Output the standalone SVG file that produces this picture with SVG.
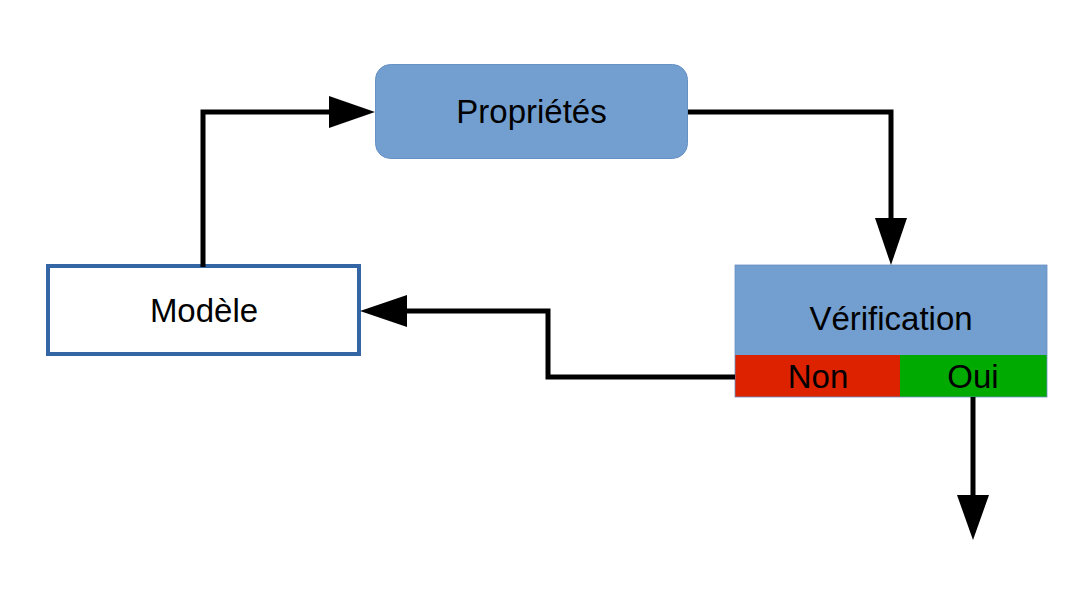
<svg xmlns="http://www.w3.org/2000/svg" width="1076" height="610" viewBox="0 0 1076 610">
<style>
.t{font-family:"Liberation Sans",Arial,sans-serif;font-size:33px;fill:#000;text-anchor:middle}
.c{fill:none;stroke:#000;stroke-width:5;stroke-linejoin:miter}
.h{fill:#000}
</style>
<rect width="1076" height="610" fill="#fff"/>
<g id="proprietes">
<rect x="375.5" y="64.5" width="312" height="94" rx="15" ry="15" fill="#729fcf" stroke="#6790c4" stroke-width="1"/>
<text class="t" x="531.5" y="123">Propriétés</text>
</g>
<g id="modele">
<rect x="48" y="266" width="311" height="88" fill="#fff" stroke="#3465a4" stroke-width="4"/>
<text class="t" x="204" y="322">Modèle</text>
</g>
<g id="verification">
<rect x="735" y="265" width="312" height="90" fill="#729fcf"/>
<rect x="735" y="355" width="165" height="42" fill="#dd2200"/>
<rect x="900" y="355" width="147" height="42" fill="#00aa00"/>
<rect x="735" y="265" width="312" height="132" fill="none" stroke="#6a8fc0" stroke-width="0.8"/>
<text class="t" x="891" y="330">Vérification</text>
<text class="t" x="818" y="388">Non</text>
<text class="t" x="973" y="388">Oui</text>
</g>
<g id="connectors">
<polyline class="c" points="203,267 203,112 330,112"/>
<polygon class="h" points="329,96 375,112 329,128"/>
<polyline class="c" points="688,112 891,112 891,220"/>
<polygon class="h" points="875,218 891,265 907,218"/>
<polyline class="c" points="735,377 548,377 548,311 405,311"/>
<polygon class="h" points="407,295 360,311 407,327"/>
<polyline class="c" points="973,397 973,497"/>
<polygon class="h" points="957,495 973,540 989,495"/>
</g>
</svg>
